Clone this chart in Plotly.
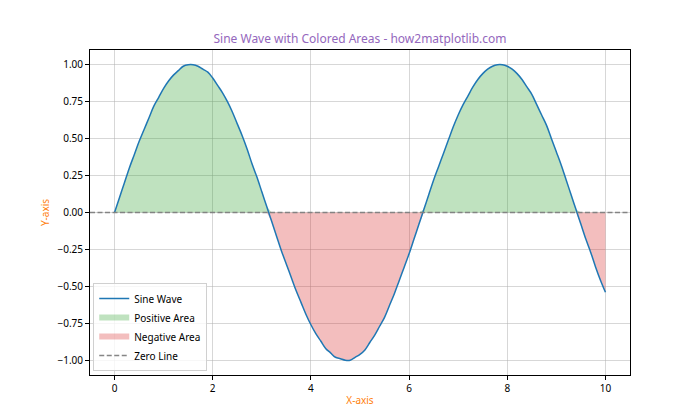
import plotly.graph_objects as go

x_values = [round(i * 0.1, 1) for i in range(101)]
y_values = [
    0.00, 0.10, 0.20, 0.30, 0.39, 0.48, 0.56, 0.64, 0.72, 0.78,
    0.84, 0.89, 0.93, 0.96, 0.99, 1.00, 1.00, 0.99, 0.97, 0.95,
    0.91, 0.86, 0.81, 0.75, 0.68, 0.60, 0.52, 0.43, 0.33, 0.24,
    0.14, 0.04, -0.06, -0.16, -0.26, -0.35, -0.44, -0.53, -0.61, -0.69,
    -0.76, -0.82, -0.87, -0.92, -0.95, -0.98, -0.99, -1.00, -1.00, -0.98,
    -0.96, -0.93, -0.88, -0.83, -0.77, -0.71, -0.63, -0.55, -0.46, -0.37,
    -0.28, -0.18, -0.08, 0.02, 0.12, 0.22, 0.31, 0.40, 0.49, 0.58,
    0.66, 0.73, 0.79, 0.85, 0.90, 0.94, 0.97, 0.99, 1.00, 1.00,
    0.99, 0.97, 0.94, 0.90, 0.85, 0.80, 0.73, 0.66, 0.59, 0.50,
    0.41, 0.32, 0.22, 0.12, 0.02, -0.08, -0.18, -0.27, -0.37, -0.46,
    -0.54,
]
x_ticks = [0, 2, 4, 6, 8, 10]
y_ticks = [-1.0, -0.75, -0.5, -0.25, 0.0, 0.25, 0.5, 0.75, 1.0]

FONT = "Noto Sans"

pos_part = [v if v > 0 else 0 for v in y_values]
neg_part = [v if v < 0 else 0 for v in y_values]

fig = go.Figure()

fig.add_trace(go.Scatter(
    x=x_values, y=pos_part, mode="none", fill="tozeroy",
    fillcolor="rgba(44,160,44,0.3)", name="Positive Area", legendrank=2,
))
fig.add_trace(go.Scatter(
    x=x_values, y=neg_part, mode="none", fill="tozeroy",
    fillcolor="rgba(214,39,40,0.3)", name="Negative Area", legendrank=3,
))
fig.add_trace(go.Scatter(
    x=x_values, y=y_values, mode="lines",
    line=dict(color="#1f77b4", width=1.5, shape="spline", smoothing=1),
    name="Sine Wave", legendrank=1,
))

# Zero line spanning the whole axis, also shown in the legend
fig.add_hline(
    y=0, line=dict(color="rgba(128,128,128,0.95)", width=1.5, dash="5px,2.5px"),
    showlegend=True, name="Zero Line", legendrank=4,
)

axis_common = dict(
    showline=True, linecolor="black", linewidth=1, mirror=True,
    ticks="outside", ticklen=4, tickcolor="black",
    showgrid=True, gridcolor="rgba(176,176,176,0.5)", gridwidth=1,
    zeroline=False, tickfont=dict(size=10, color="black"),
)

# page body adds an offset, margins compensate for it
fig.update_layout(
    width=700, height=420,
    margin=dict(l=82, r=78, t=42, b=53),
    plot_bgcolor="white", paper_bgcolor="white",
    font=dict(family=FONT, size=10, color="black"),
    title=dict(
        text="Sine Wave with Colored Areas - how2matplotlib.com",
        font=dict(size=12, color="#9467bd"),
        x=0.5, xref="paper", y=1 - 31 / 420, yref="container",
        xanchor="center", yanchor="middle",
    ),
    xaxis=dict(
        range=[-0.5, 10.5], tickvals=x_ticks,
        title=dict(text="X-axis", font=dict(size=10, color="#ff7f0e"), standoff=2),
        **axis_common,
    ),
    yaxis=dict(
        range=[-1.1, 1.1], tickvals=y_ticks, tickformat=".2f",
        title=dict(text="Y-axis", font=dict(size=10, color="#ff7f0e"), standoff=5),
        **axis_common,
    ),
    legend=dict(
        x=0.006, y=0.012, xanchor="left", yanchor="bottom",
        bgcolor="rgba(255,255,255,0.8)", bordercolor="#d0d0d0", borderwidth=1,
        font=dict(size=10), tracegroupgap=0, itemwidth=30,
    ),
    showlegend=True,
)

fig.write_html("out.html")
